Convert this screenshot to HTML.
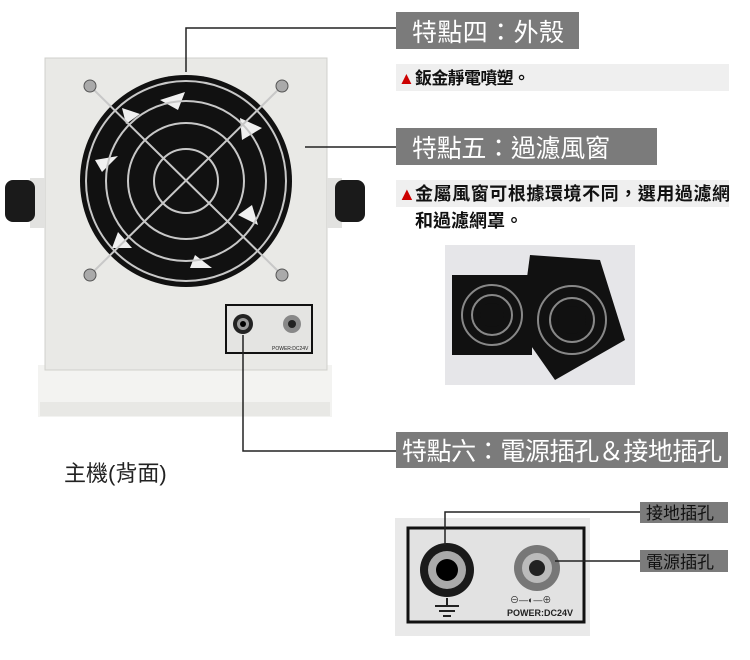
<!DOCTYPE html>
<html><head><meta charset="utf-8"><style>
html,body{margin:0;padding:0;background:#fff;}
svg{display:block;}
text{font-family:"Liberation Sans","Noto Sans CJK TC",sans-serif;}
</style></head><body>
<svg width="750" height="660" viewBox="0 0 750 660" xmlns="http://www.w3.org/2000/svg">
<rect x="38" y="365" width="294" height="52" fill="#f3f3f1"/>
<rect x="40" y="402" width="290" height="14" fill="#e8e8e5"/>
<rect x="45" y="58" width="282" height="312" fill="#e9e9e6" stroke="#d0d0cc"/>
<rect x="30" y="178" width="15" height="50" fill="#e2e2e0"/>
<rect x="327" y="178" width="15" height="50" fill="#e2e2e0"/>
<rect x="5" y="180" width="30" height="42" rx="8" fill="#1a1a1a"/>
<rect x="335" y="180" width="30" height="42" rx="8" fill="#1a1a1a"/>
<circle cx="186" cy="181" r="106" fill="#111"/>
<g fill="#f0f0f0">
<polygon points="160,100 185,92 178,110"/>
<polygon points="240,118 262,128 242,140"/>
<polygon points="252,205 258,225 238,215"/>
<polygon points="195,255 212,268 190,268"/>
<polygon points="118,232 132,248 112,248"/>
<polygon points="95,160 118,156 102,172"/>
<polygon points="122,108 140,114 126,124"/>
</g>
<g fill="none" stroke="#c8c8c8" stroke-width="2">
<circle cx="186" cy="181" r="100"/>
<circle cx="186" cy="181" r="80"/>
<circle cx="186" cy="181" r="58"/>
<circle cx="186" cy="181" r="32"/>
<line x1="90" y1="86" x2="282" y2="275"/>
<line x1="282" y1="86" x2="90" y2="275"/>
</g>
<g fill="#aaa" stroke="#555">
<circle cx="90" cy="86" r="6"/><circle cx="282" cy="86" r="6"/>
<circle cx="90" cy="275" r="6"/><circle cx="282" cy="275" r="6"/>
</g>
<rect x="226" y="305" width="86" height="48" fill="#e4e4e2" stroke="#111" stroke-width="2"/>
<circle cx="243" cy="324" r="10" fill="#222"/><circle cx="243" cy="324" r="6" fill="#999"/><circle cx="243" cy="324" r="3" fill="#000"/>
<circle cx="292" cy="324" r="9" fill="#888"/><circle cx="292" cy="324" r="4" fill="#222"/>
<text x="272" y="350" font-size="5" fill="#222">POWER:DC24V</text>
<g stroke="#222" stroke-width="1.5" fill="none">
<polyline points="186,72 186,28 396,28"/>
<line x1="305" y1="147" x2="396" y2="147"/>
<polyline points="243,335 243,451 396,451"/>
</g>
<rect x="396" y="12" width="183" height="37" fill="#7b7b7b"/>
<text x="412" y="41" font-size="25" fill="#fff" textLength="152">特點四：外殼</text>
<rect x="396" y="64" width="333" height="27" fill="#efefef"/>
<text x="398" y="84" font-size="17" fill="#c00">▲</text>
<text x="415" y="84" font-size="17" fill="#111" font-weight="bold" textLength="115">鈑金靜電噴塑。</text>
<rect x="396" y="128" width="261" height="37" fill="#7b7b7b"/>
<text x="412" y="157" font-size="25" fill="#fff" textLength="198">特點五：過濾風窗</text>
<rect x="396" y="180" width="333" height="27" fill="#efefef"/>
<text x="398" y="200" font-size="18" fill="#c00">▲</text>
<text x="415" y="200" font-size="18" fill="#111" font-weight="bold" textLength="315">金屬風窗可根據環境不同，選用過濾網</text>
<text x="415" y="227" font-size="18" fill="#111" font-weight="bold">和過濾網罩。</text>
<rect x="445" y="245" width="190" height="140" fill="#e6e6e9"/>
<polygon points="530,255 600,260 625,340 555,380 520,330" fill="#111"/>
<rect x="452" y="275" width="80" height="80" fill="#111"/>
<g fill="none" stroke="#888" stroke-width="2">
<circle cx="492" cy="315" r="30"/><circle cx="492" cy="315" r="20"/>
<circle cx="572" cy="320" r="34"/><circle cx="572" cy="320" r="22"/>
</g>
<circle cx="492" cy="315" r="12" fill="#111"/><circle cx="572" cy="320" r="14" fill="#111"/>
<rect x="396" y="432" width="332" height="36" fill="#7b7b7b"/>
<text x="402" y="460" font-size="25" fill="#fff" textLength="320">特點六：電源插孔＆接地插孔</text>
<text x="64" y="481" font-size="22" fill="#222">主機(背面)</text>
<rect x="395" y="518" width="195" height="118" fill="#e9e9e9"/>
<rect x="408" y="528" width="176" height="94" fill="#e2e2e2" stroke="#111" stroke-width="3"/>
<circle cx="447" cy="570" r="27" fill="#1a1a1a"/>
<circle cx="447" cy="570" r="19" fill="#aaa"/>
<circle cx="447" cy="570" r="11" fill="#000"/>
<circle cx="537" cy="568" r="23" fill="#777"/>
<circle cx="537" cy="568" r="15" fill="#bbb"/>
<circle cx="537" cy="568" r="8" fill="#222"/>
<g stroke="#222" stroke-width="2"><line x1="447" y1="598" x2="447" y2="606"/><line x1="435" y1="606" x2="459" y2="606"/><line x1="439" y1="611" x2="455" y2="611"/><line x1="443" y1="616" x2="451" y2="616"/></g>
<text x="510" y="603" font-size="9" fill="#222">⊖—◐—⊕</text>
<text x="507" y="616" font-size="9" font-weight="bold" fill="#222">POWER:DC24V</text>
<g stroke="#222" stroke-width="1.5" fill="none">
<polyline points="445,545 445,512 640,512"/>
<line x1="555" y1="561" x2="640" y2="561"/>
</g>
<rect x="640" y="502" width="88" height="21" fill="#7b7b7b"/>
<text x="646" y="519" font-size="17" fill="#111">接地插孔</text>
<rect x="640" y="550" width="88" height="22" fill="#7b7b7b"/>
<text x="646" y="568" font-size="17" fill="#111">電源插孔</text>
</svg>
</body></html>
